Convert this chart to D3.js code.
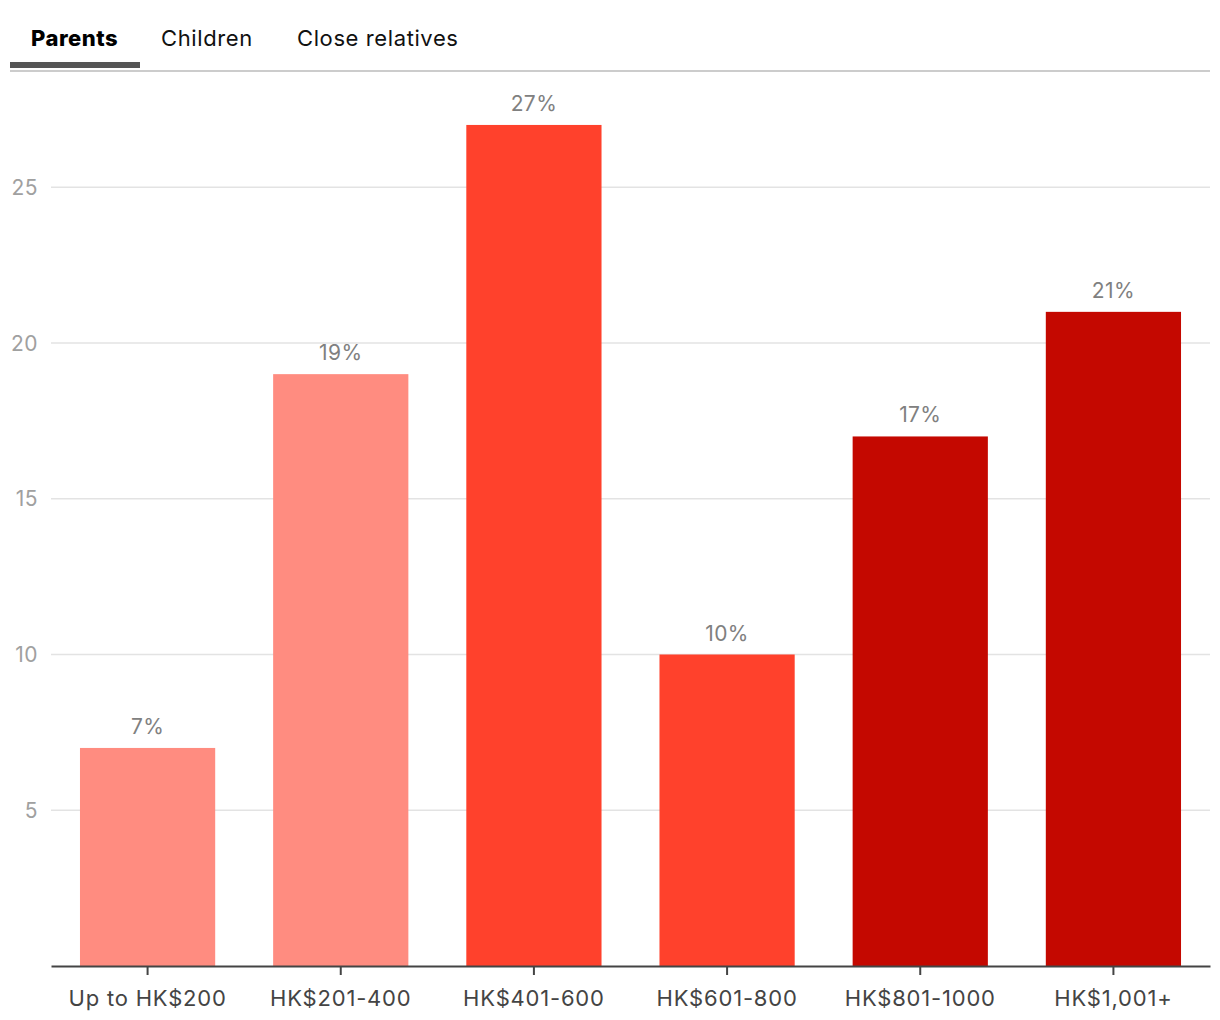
<!DOCTYPE html>
<html>
<head>
<meta charset="utf-8">
<script src="https://cdn.jsdelivr.net/npm/d3@7"></script>
<style>
    body { margin: 0; background: #fff; font-family: Inter, Roboto, "Noto Sans", sans-serif; }
    .tab { font-size: 22px; fill: #111; letter-spacing: 0.6px; }
    .tab.active { font-weight: 800; letter-spacing: 0.5px; fill: #000; }
    .yticks text { font-size: 21px; fill: #a0a0a0; letter-spacing: 0.5px; }
    .xticks text { font-size: 22px; fill: #444; letter-spacing: 0.8px; }
    .barTxt { font-size: 21px; fill: #808080; letter-spacing: 0.4px; }
</style>
</head>
<body>
<div id="barChartGrf"></div>
<script>
// chart data
const tabs = ["Parents", "Children", "Close relatives"];
const categories = ["Up to HK$200", "HK$201-400", "HK$401-600", "HK$601-800", "HK$801-1000", "HK$1,001+"];
const values = [7, 19, 27, 10, 17, 21];
const barColors = ["#FF8C80", "#FF8C80", "#FF412C", "#FF412C", "#C40800", "#C40800"];
const yTicks = [5, 10, 15, 20, 25];

const windowWidth = 1220;
const windowHeight = 1020;

const svgBase = d3.select("#barChartGrf").append("svg")
    .attr("width", windowWidth)
    .attr("height", windowHeight);

// tabs
const tabX = [31, 161, 297];
svgBase.selectAll(".tab").data(tabs).enter().append("text")
    .attr("class", (d, i) => i === 0 ? "tab active" : "tab")
    .attr("x", (d, i) => tabX[i])
    .attr("y", 46)
    .text(d => d);

svgBase.append("rect")
    .attr("x", 10).attr("y", 70).attr("width", 1200).attr("height", 2)
    .attr("fill", "#cccccc");
svgBase.append("rect")
    .attr("x", 10).attr("y", 62).attr("width", 130).attr("height", 6)
    .attr("fill", "#555555");

// plot area
const plotLeft = 51, plotRight = 1210, plotBottom = 966;

const x = d3.scaleBand()
    .domain(categories)
    .range([plotLeft, plotRight])
    .paddingInner(0.3)
    .paddingOuter(0.15);

const y = d3.scaleLinear()
    .domain([0, 28.75])
    .range([plotBottom, plotBottom - 28.75 * 31.15]);

// grid
svgBase.append("g")
    .attr("class", "grid")
    .selectAll("line").data(yTicks).enter().append("line")
    .attr("x1", plotLeft).attr("x2", plotRight)
    .attr("y1", d => y(d)).attr("y2", d => y(d))
    .attr("stroke", "#e3e3e3")
    .attr("stroke-width", 1.5);

// y labels
svgBase.append("g")
    .attr("class", "yticks")
    .selectAll("text").data(yTicks).enter().append("text")
    .attr("x", 38)
    .attr("y", d => y(d))
    .attr("dy", "0.36em")
    .attr("text-anchor", "end")
    .text(d => d);

// bars
svgBase.selectAll(".bar").data(values).enter().append("rect")
    .attr("class", "bar")
    .attr("x", (d, i) => x(categories[i]))
    .attr("width", x.bandwidth())
    .attr("y", d => y(d))
    .attr("height", d => y(0) - y(d))
    .attr("fill", (d, i) => barColors[i]);

svgBase.selectAll(".barTxt").data(values).enter().append("text")
    .attr("class", "barTxt")
    .attr("x", (d, i) => x(categories[i]) + x.bandwidth() / 2)
    .attr("y", d => y(d) - 14)
    .attr("text-anchor", "middle")
    .text(d => d + "%");

// x axis
const xAxis = svgBase.append("g")
    .attr("class", "xticks")
    .attr("transform", "translate(0," + plotBottom + ")")
    .call(d3.axisBottom(x).tickSize(9).tickSizeOuter(0).tickPadding(15));

xAxis.select(".domain").attr("stroke", "#444").attr("stroke-width", 2);
xAxis.selectAll(".tick line").attr("stroke", "#444").attr("stroke-width", 2);
xAxis.selectAll(".tick text").attr("fill", "#444").style("font-family", "Inter, Roboto, sans-serif");
</script>
</body>
</html>
